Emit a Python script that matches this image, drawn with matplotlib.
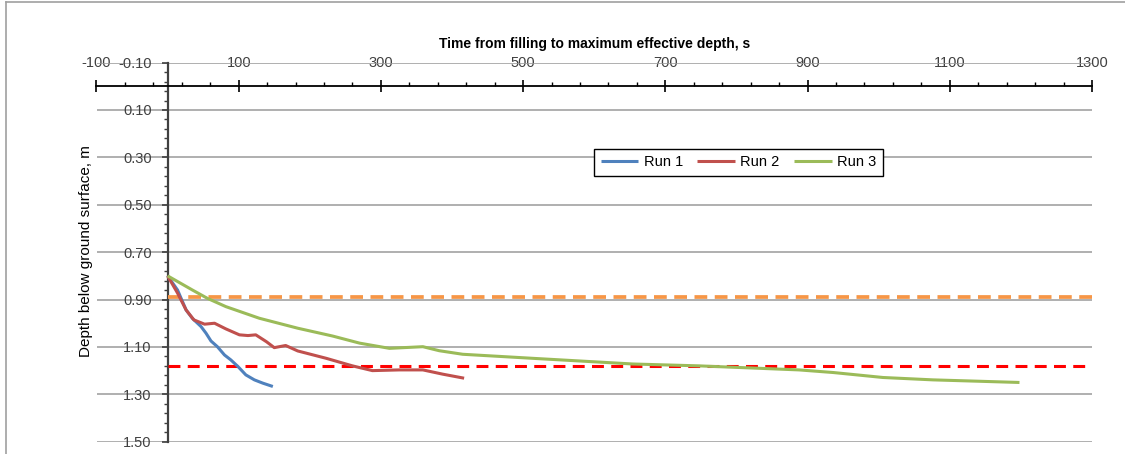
import matplotlib.pyplot as plt
import matplotlib.ticker as mticker
from matplotlib.lines import Line2D

plt.rcParams['font.family'] = ['Liberation Sans', 'DejaVu Sans']

# dados (tempo em s, profundidade em m)
run1_t = [0, 14, 26, 35, 47, 54, 61, 70, 80, 89, 99, 110, 122, 134, 148]
run1_d = [0.80, 0.86, 0.944, 0.98, 1.014, 1.042, 1.075, 1.099, 1.134, 1.155, 1.183, 1.218, 1.239, 1.253, 1.267]

run2_t = [0, 14, 26, 37, 52, 66, 82, 101, 113, 124, 139, 150, 166, 183, 223, 260, 288, 326, 359, 387, 417]
run2_d = [0.80, 0.873, 0.944, 0.986, 1.004, 1.0, 1.024, 1.049, 1.052, 1.049, 1.078, 1.103, 1.094, 1.117,
          1.148, 1.18, 1.20, 1.197, 1.197, 1.215, 1.232]

run3_t = [0, 35, 56, 82, 129, 183, 232, 270, 312, 359, 382, 415, 513, 654, 748, 888, 936, 1006, 1076, 1198]
run3_d = [0.80, 0.86, 0.895, 0.93, 0.979, 1.021, 1.054, 1.084, 1.106, 1.099, 1.116, 1.131, 1.148, 1.172,
          1.18, 1.197, 1.208, 1.229, 1.239, 1.25]

nivel_laranja = 0.89
nivel_vermelho = 1.18

x_ticks = [-100, 100, 300, 500, 700, 900, 1100, 1300]
y_ticks = [-0.10, 0.10, 0.30, 0.50, 0.70, 0.90, 1.10, 1.30, 1.50]

fig = plt.figure(figsize=(11.25, 4.54), dpi=100)
ax = fig.add_axes([96.5 / 1125, 12.3 / 454, 995.5 / 1125, 379.1 / 454])

ax.set_xlim(-100, 1300)
ax.set_ylim(1.50, -0.10)

# linhas de referencia tracejadas
ax.plot([0, 1300], [nivel_laranja] * 2, color='#F79646', lw=2.7, dashes=(3.4, 2.0), zorder=3)
ax.plot([0, 1300], [nivel_vermelho] * 2, color='#FF0000', lw=2.2, dashes=(3.9, 2.4), zorder=3)

ax.plot(run1_t, run1_d, color='#4F81BD', lw=2.2, label='Run 1', zorder=4, solid_capstyle='butt')
ax.plot(run2_t, run2_d, color='#C0504D', lw=2.2, label='Run 2', zorder=4, solid_capstyle='butt')
ax.plot(run3_t, run3_d, color='#9BBB59', lw=2.2, label='Run 3', zorder=4, solid_capstyle='butt')

# eixos cruzando em x=0 e y=0 (estilo Excel)
for s in ['right', 'bottom']:
    ax.spines[s].set_visible(False)
ax.spines['left'].set_position(('data', 0))
ax.spines['left'].set_color('#404040')
ax.spines['left'].set_linewidth(1.6)
ax.spines['top'].set_position(('data', 0))
ax.spines['top'].set_color('black')
ax.spines['top'].set_linewidth(1.3)

ax.xaxis.set_ticks_position('top')
ax.xaxis.set_major_locator(mticker.FixedLocator(x_ticks))
ax.xaxis.set_minor_locator(mticker.MultipleLocator(40, offset=-100))
ax.tick_params(axis='x', which='major', direction='inout', length=8, width=1.2, pad=8,
               labelsize=10.5, colors='black')
ax.tick_params(axis='x', which='minor', direction='out', length=3, width=1.0, colors='black')
ax.xaxis.set_major_formatter(mticker.FuncFormatter(lambda v, p: '%d' % v))
for lb in ax.get_xticklabels():
    lb.set_color('#404040')

ax.yaxis.set_major_locator(mticker.FixedLocator(y_ticks))
ax.yaxis.set_minor_locator(mticker.MultipleLocator(0.04, offset=0.02))
ax.yaxis.set_major_formatter(mticker.FuncFormatter(lambda v, p: '%.2f' % v))
ax.tick_params(axis='y', which='major', direction='out', length=4, width=1.2, pad=7.5,
               labelsize=10.5, colors='#404040')
ax.tick_params(axis='y', which='minor', direction='out', length=3, width=1.0, colors='#404040')

ax.grid(axis='y', which='major', color='#9A9A9A', lw=1.1, zorder=0)
ax.set_axisbelow(True)

ax.text(0.5, 1.049, 'Time from filling to maximum effective depth, s', transform=ax.transAxes,
        ha='center', va='center', fontsize=10, fontweight='bold', color='black')
fig.text(86 / 1125, 1 - 251 / 454, 'Depth below ground surface, m', rotation=90,
         ha='center', va='center', fontsize=11, color='black')

leg = ax.legend(loc='center', bbox_to_anchor=(738.5 / 1125, 1 - 162.5 / 454),
                bbox_transform=fig.transFigure, ncol=3, fontsize=10.5, frameon=True,
                fancybox=False, edgecolor='black', framealpha=1, handlelength=2.6,
                columnspacing=1.0, borderpad=0.45, handletextpad=0.35)
leg.get_frame().set_linewidth(1.0)

# moldura (apenas topo e esquerda visiveis no recorte)
fig.add_artist(Line2D([6 / 1125, 1], [1 - 2 / 454] * 2, transform=fig.transFigure, color='#A0A0A0', lw=1.2))
fig.add_artist(Line2D([6 / 1125] * 2, [0, 1 - 2 / 454], transform=fig.transFigure, color='#A0A0A0', lw=1.2))

plt.savefig('out.png', dpi=100)
